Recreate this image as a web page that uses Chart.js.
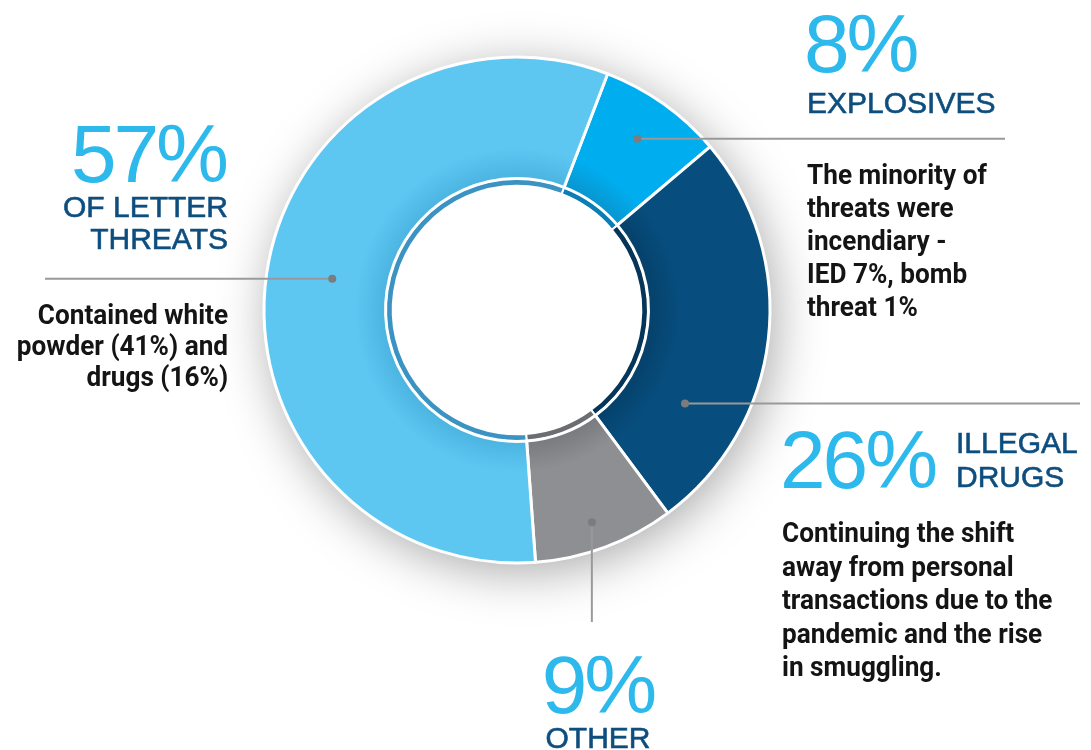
<!DOCTYPE html>
<html>
<head>
<meta charset="utf-8">
<script src="https://cdn.jsdelivr.net/npm/chart.js@4.4.1/dist/chart.umd.min.js"></script>
<style>
  html, body { margin: 0; padding: 0; background: #fff; }
  #wrap { position: relative; width: 1091px; height: 750px; overflow: hidden; }
  #donut { position: absolute; left: 0; top: 0; }
  .t { position: absolute; white-space: nowrap; margin: 0; }
  .pct { font-family: "Liberation Sans", Arial, sans-serif; font-size: 82px; line-height: 82px; color: #2db9ec; letter-spacing: -3px; }
  .lbl { font-family: "Liberation Sans", Arial, sans-serif; font-size: 30px; color: #0d4e7f; -webkit-text-stroke: 0.6px #0d4e7f; }
  .body { font-family: Roboto, "Liberation Sans", sans-serif; font-weight: 700; font-size: 28px; color: #141414; transform: scaleX(0.935); }
  .body.r { transform-origin: right top; }
  .body.l { transform-origin: left top; }
</style>
</head>
<body>
<div id="wrap">
  <canvas id="donut" width="1091" height="750"></canvas>

  <div class="t pct" style="right:865px;top:113px;text-align:right;">57%</div>
  <div class="t lbl" style="right:863px;top:191px;line-height:32px;text-align:right;">OF LETTER<br>THREATS</div>
  <div class="t body r" style="right:863px;top:299px;line-height:31px;text-align:right;">Contained white<br>powder (41%) and<br>drugs (16%)</div>

  <div class="t pct" style="left:804px;top:3px;">8%</div>
  <div class="t lbl" style="left:807px;top:86px;line-height:33px;">EXPLOSIVES</div>
  <div class="t body l" style="left:807px;top:158px;line-height:33px;">The minority of<br>threats were<br>incendiary -<br>IED 7%, bomb<br>threat 1%</div>

  <div class="t pct" style="left:780px;top:419px;">26%</div>
  <div class="t lbl" style="left:956px;top:426px;line-height:34px;">ILLEGAL<br>DRUGS</div>
  <div class="t body l" style="left:782px;top:516px;line-height:33.5px;">Continuing the shift<br>away from personal<br>transactions due to the<br>pandemic and the rise<br>in smuggling.</div>

  <div class="t pct" style="left:498px;width:200px;top:644px;text-align:center;">9%</div>
  <div class="t lbl" style="left:498px;width:200px;top:721px;line-height:33px;text-align:center;">OTHER</div>
</div>

<script>
// threat categories, clockwise from the top-right
const categories = ['Explosives', 'Illegal drugs', 'Other', 'Letter threats'];
const shares = [8, 26, 9, 57];

const baseColors = ['#00aeef', '#074d7d', '#8d8f93', '#5dc7f2'];
const shadeColors = ['#0897d2', '#05426c', '#7a7c80', '#4db5e2'];
const innerRingColors = ['#0b7fb5', '#06355a', '#6b6d70', '#3a93c2'];

const OUTER_R = 253;
const HOLE_R = 127;
const RING_GAP = 7;   // thickness of the thin inner ring

// where each leader dot sits inside its slice (fraction of angle, fraction of depth)
const leaders = [
  { t: 0.49, f: 0.64, to: { x: 1005 } },
  { t: 0.74, f: 0.50, to: { x: 1080 } },
  { t: 0.53, f: 0.77, to: { y: 622 } },
  { t: 0.506, f: 0.46, to: { x: 45 } }
];

function sliceFill(context) {
  const chart = context.chart;
  const area = chart.chartArea;
  const i = context.dataIndex;
  if (!area) return baseColors[i];
  const cx = (area.left + area.right) / 2;
  const cy = (area.top + area.bottom) / 2;
  const g = chart.ctx.createRadialGradient(cx, cy, HOLE_R, cx, cy, OUTER_R);
  const startPos = RING_GAP / (OUTER_R - HOLE_R);
  g.addColorStop(0, shadeColors[i]);
  g.addColorStop(startPos, shadeColors[i]);
  g.addColorStop(0.28, baseColors[i]);
  g.addColorStop(1, baseColors[i]);
  return g;
}

const donutShadow = {
  id: 'donutShadow',
  beforeDatasetsDraw(chart) {
    const arc = chart.getDatasetMeta(0).data[0];
    if (!arc) return;
    const ctx = chart.ctx;
    ctx.save();
    ctx.shadowColor = 'rgba(0,0,0,0.34)';
    ctx.shadowBlur = 50;
    ctx.shadowOffsetX = 5;
    ctx.shadowOffsetY = 9;
    ctx.fillStyle = '#ffffff';
    ctx.beginPath();
    ctx.arc(arc.x, arc.y, arc.outerRadius, 0, Math.PI * 2);
    ctx.fill();
    ctx.restore();
  }
};

const leaderLines = {
  id: 'leaderLines',
  afterDatasetsDraw(chart) {
    const ctx = chart.ctx;
    const arcs = chart.getDatasetMeta(0).data;
    ctx.save();
    arcs.forEach((arc, i) => {
      const p = leaders[i];
      const a = arc.startAngle + p.t * (arc.endAngle - arc.startAngle);
      const r = arc.innerRadius + p.f * (arc.outerRadius - arc.innerRadius);
      const x = arc.x + r * Math.cos(a);
      const y = arc.y + r * Math.sin(a);
      ctx.strokeStyle = '#999999';
      ctx.lineWidth = 2;
      ctx.beginPath();
      ctx.moveTo(x, y);
      if (p.to.x !== undefined) ctx.lineTo(p.to.x, y);
      else ctx.lineTo(x, p.to.y);
      ctx.stroke();
      ctx.fillStyle = '#7c7c7e';
      ctx.beginPath();
      ctx.arc(x, y, 4, 0, Math.PI * 2);
      ctx.fill();
    });
    ctx.restore();
  }
};

new Chart(document.getElementById('donut'), {
  type: 'doughnut',
  data: {
    labels: categories,
    datasets: [
      {
        data: shares,
        backgroundColor: sliceFill,
        borderColor: '#ffffff',
        borderWidth: 3,
        weight: OUTER_R - HOLE_R - RING_GAP
      },
      {
        data: shares,
        backgroundColor: innerRingColors,
        borderColor: '#ffffff',
        borderWidth: 2,
        weight: RING_GAP
      }
    ]
  },
  options: {
    responsive: false,
    animation: false,
    rotation: 21,
    radius: OUTER_R,
    cutout: HOLE_R,
    layout: { padding: { left: 257, right: 314, top: 50, bottom: 180 } },
    events: [],
    plugins: {
      legend: { display: false },
      tooltip: { enabled: false }
    }
  },
  plugins: [donutShadow, leaderLines]
});
</script>
</body>
</html>
